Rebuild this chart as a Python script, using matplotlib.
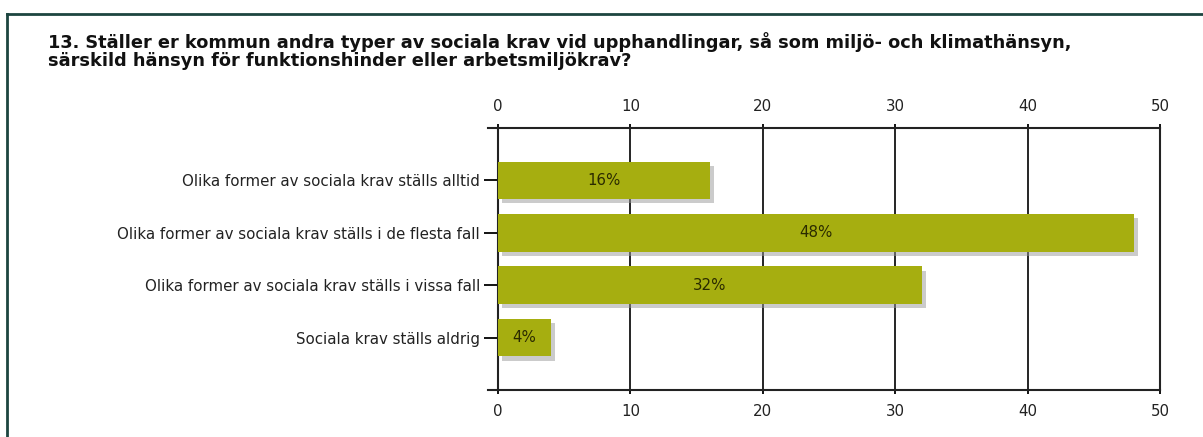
import matplotlib
matplotlib.use("Agg")
import matplotlib.pyplot as plt
import matplotlib.patheffects as pe
from matplotlib.lines import Line2D

categories = [
    "Olika former av sociala krav ställs alltid",
    "Olika former av sociala krav ställs i de flesta fall",
    "Olika former av sociala krav ställs i vissa fall",
    "Sociala krav ställs aldrig",
]
values = [16, 48, 32, 4]
xticks = [0, 10, 20, 30, 40, 50]
title = ("13. Ställer er kommun andra typer av sociala krav vid upphandlingar, så som miljö- och klimathänsyn,\n"
         "särskild hänsyn för funktionshinder eller arbetsmiljökrav?")

W, H = 1203, 437
fig = plt.figure(figsize=(W / 100, H / 100), dpi=100)
ax = fig.add_axes([498 / W, (H - 390) / H, (1160 - 498) / W, (390 - 128) / H])

bar_color = "#a6ae10"
txt = "#222222"
ypos = list(range(len(categories)))
bars = ax.barh(ypos, values, height=0.72, color=bar_color, zorder=3)
for b in bars:
    b.set_path_effects([pe.SimplePatchShadow(offset=(3, -3), shadow_rgbFace="#999999", alpha=0.5),
                        pe.Normal()])
for y, v in zip(ypos, values):
    ax.text(v / 2, y, f"{v}%", ha="center", va="center", fontsize=10.8,
            family="DejaVu Sans", color="#2a2a00", zorder=4)

ax.set_xlim(0, 50)
ax.set_ylim(4, -1)
ax.set_yticks(ypos)
ax.set_yticklabels(categories, family="DejaVu Sans", fontsize=10.8, color=txt)
ax.set_xticks(xticks)
ax.set_xticklabels([str(t) for t in xticks], family="DejaVu Sans", fontsize=10.8, color=txt)
ax.tick_params(axis="x", top=True, labeltop=True, bottom=True, labelbottom=True,
               length=3, width=1.3, direction="out", pad=7)
ax.tick_params(axis="y", length=10, width=1.3, direction="out", pad=3)
ax.grid(axis="x", color="black", linewidth=1.2, zorder=1)
for s in ax.spines.values():
    s.set_linewidth(1.5)
    s.set_color(txt)

# top/bottom lines extend a bit to the left of the axis
for yy in (0, 1):
    ax.plot([-0.0151, 0], [yy, yy], transform=ax.transAxes, color=txt,
            linewidth=1.5, clip_on=False)

fig.text(48 / W, 1 - 32 / H, title, ha="left", va="top", fontsize=12.8,
         fontweight="bold", family="DejaVu Sans", color="#111111", linespacing=1.0)

# frame lines
border = "#1d4540"
fig.add_artist(Line2D([7 / W, 1], [1 - 14 / H, 1 - 14 / H], color=border, linewidth=2,
                      transform=fig.transFigure))
fig.add_artist(Line2D([7 / W, 7 / W], [0, 1 - 14 / H], color=border, linewidth=2,
                      transform=fig.transFigure))

fig.savefig("out.png", dpi=100)
